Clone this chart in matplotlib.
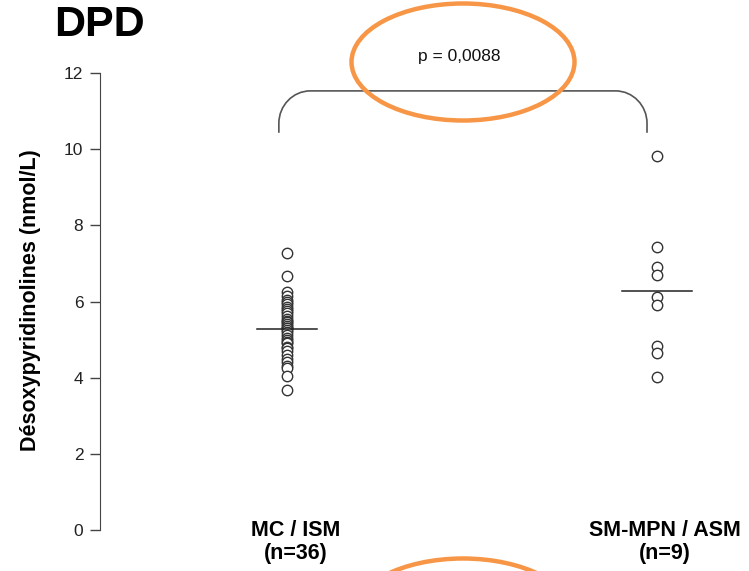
import numpy as np
import matplotlib.pyplot as plt
from matplotlib.patches import Ellipse, PathPatch
from matplotlib.path import Path

plt.rcParams['font.family'] = ['Liberation Sans', 'DejaVu Sans']

groups = ['MC / ISM\n(n=36)', 'SM-MPN / ASM\n(n=9)']
mc_ism = [7.27, 6.68, 6.26, 6.15, 6.05, 6.00, 5.93, 5.85, 5.80, 5.75, 5.70,
          5.62, 5.55, 5.50, 5.46, 5.40, 5.35, 5.30, 5.30, 5.25, 5.20, 5.12,
          5.05, 5.00, 4.94, 4.90, 4.80, 4.78, 4.70, 4.60, 4.50, 4.41, 4.30,
          4.25, 4.05, 3.68]
sm_mpn = [9.83, 7.44, 6.91, 6.70, 6.13, 5.92, 4.83, 4.64, 4.03]
p_text = 'p = 0,0088'

fig = plt.figure(figsize=(7.49, 5.71), dpi=100)
ax = fig.add_axes([100 / 749, 1 - 530 / 571, 640 / 749, 457 / 571])

for i, vals in enumerate([mc_ism, sm_mpn]):
    xpos = i + 1
    ax.plot([xpos] * len(vals), vals, 'o', mfc='white', mec='#333333',
            mew=1.0, ms=7.5, clip_on=False, zorder=3)
    half = 0.081 if i == 0 else 0.095
    ax.plot([xpos - half, xpos + half], [np.mean(vals)] * 2, color='#222222', lw=1.1, zorder=4)

ax.set_xlim(1 - 187 / 370, 2 + 83 / 370)
ax.set_ylim(0, 12)
ax.set_yticks(range(0, 13, 2))
ax.set_xticks([])
for s in ['top', 'right', 'bottom']:
    ax.spines[s].set_visible(False)
ax.spines['left'].set_color('#444444')
ax.tick_params(axis='y', direction='out', length=7, width=1, color='#444444',
               labelsize=12.5, labelcolor='#222222', pad=5)

# bracket with rounded corners
x0, x1, yb, yt, rx, ry = 0.978, 1.973, 10.43, 11.53, 0.085, 0.85
verts = [(x0, yb), (x0, yt - ry),
         (x0, yt - ry * 0.45), (x0 + rx * 0.45, yt), (x0 + rx, yt),
         (x1 - rx, yt),
         (x1 - rx * 0.45, yt), (x1, yt - ry * 0.45), (x1, yt - ry),
         (x1, yb)]
codes = [Path.MOVETO, Path.LINETO, Path.CURVE4, Path.CURVE4, Path.CURVE4,
         Path.LINETO, Path.CURVE4, Path.CURVE4, Path.CURVE4, Path.LINETO]
ax.add_patch(PathPatch(Path(verts, codes), fill=False, ec='#555555', lw=1.2, clip_on=False))

fig.text(459 / 749, 1 - 56 / 571, p_text, ha='center', va='center', fontsize=12.5, color='#111111')

fig.text(54 / 749, 1 - 25 / 571, 'DPD', ha='left', va='center', fontsize=31, fontweight='bold')
fig.text(31 / 749, 1 - 300 / 571, 'Désoxypyridinolines (nmol/L)', rotation=90,
         ha='center', va='center', fontsize=15.5, fontweight='bold')

for xc, lab in zip([296, 665], groups):
    fig.text(xc / 749, 1 - 542 / 571, lab, ha='center', va='center',
             fontsize=15.5, fontweight='bold', linespacing=1.15)

# orange highlight ellipses
for cy in [62, 617]:
    fig.add_artist(Ellipse((463 / 749, 1 - cy / 571), 223 / 749, 117 / 571,
                           transform=fig.transFigure, fill=False,
                           ec='#F79646', lw=3.2, zorder=10))

fig.savefig('out.png', dpi=100)
